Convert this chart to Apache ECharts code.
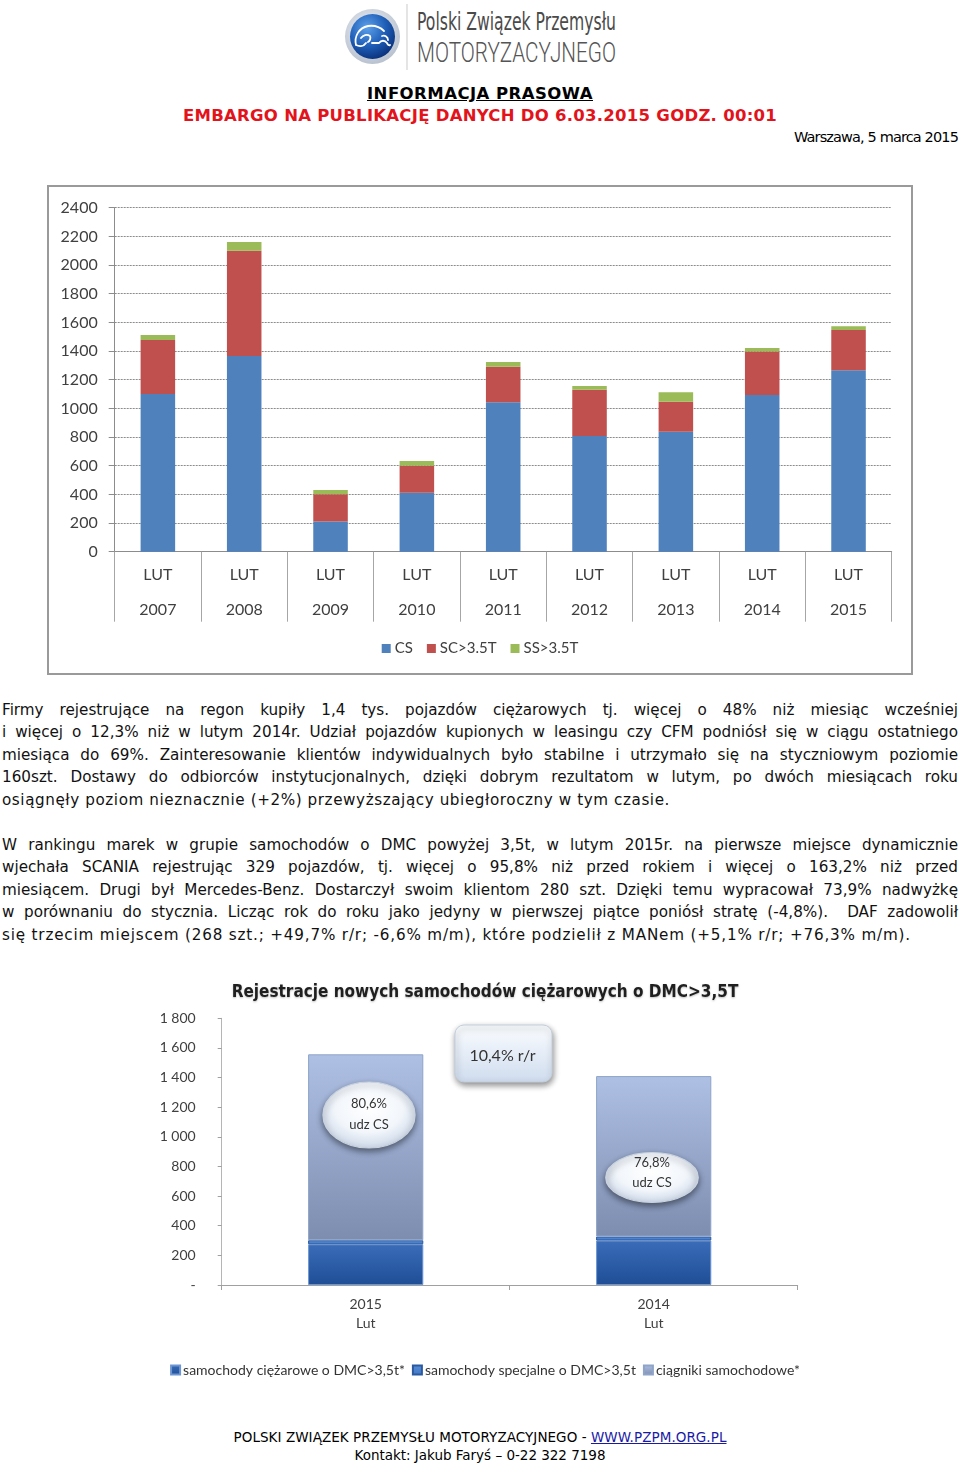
<!DOCTYPE html>
<html lang="pl"><head><meta charset="utf-8">
<script src="https://cdn.jsdelivr.net/npm/echarts@6.0.0/dist/echarts.min.js"></script>
<style>
html,body{margin:0;padding:0;background:#fff;}
body{width:960px;height:1467px;position:relative;overflow:hidden;font-family:'DejaVu Sans',sans-serif;color:#000;}
#logo{position:absolute;left:330px;top:0;width:300px;height:75px;}
.hd{position:absolute;left:0;width:960px;text-align:center;font-weight:bold;font-size:16.5px;line-height:22px;}
.hd span{display:inline-block;white-space:pre;}
#info{top:83px;}
#info span{text-decoration:underline;}
#emb{top:105px;color:#e3131b;}
#date{position:absolute;right:2px;top:127px;font-size:14.5px;line-height:20px;}
#date span{display:inline-block;white-space:pre;}
#box1{position:absolute;left:47px;top:185px;width:862px;height:486px;border:2px solid #9a9a9a;}
#c1{position:absolute;left:0;top:0;width:862px;height:486px;}
.txt{position:absolute;left:2px;width:956px;font-size:15.2px;line-height:22.4px;color:#111;}
.ln{display:block;height:22.4px;white-space:nowrap;}
.ln span{display:inline-block;white-space:pre;}
#c2{position:absolute;left:150px;top:975px;width:670px;height:410px;}
#foot{position:absolute;left:0;width:960px;top:1428px;text-align:center;font-size:13.5px;line-height:18px;}
#foot span.f{display:inline-block;white-space:pre;}
#foot a{color:#1a1aa6;text-decoration:underline;}
</style></head>
<body>
<svg id="logo" width="300" height="75" viewBox="0 0 300 75">
  <defs>
    <radialGradient id="ring" cx="45%" cy="40%" r="60%"><stop offset="0" stop-color="#f4f6f9"/><stop offset="1" stop-color="#b9c2cf"/></radialGradient>
    <radialGradient id="blue" cx="38%" cy="30%" r="75%"><stop offset="0" stop-color="#5da0ea"/><stop offset="0.55" stop-color="#1f5fb8"/><stop offset="1" stop-color="#0a2f78"/></radialGradient>
  </defs>
  <circle cx="42.5" cy="36.5" r="27.5" fill="url(#ring)"/>
  <circle cx="42.5" cy="36.5" r="22.5" fill="url(#blue)"/>
  <path d="M26,45 C24,36 29,28 38,26 C45,25 50,27 54,31 M26,45 C30,47 34,46 36,43 M31,38 C33,35 37,34 40,36 C41,38 40,41 38,42 M42,43 L49,43 M49,43 C51,40 55,40 57,43 C58,45 59,46 60,45 M52,36 C55,35 58,37 58,40" fill="none" stroke="#ffffff" stroke-width="1.8" stroke-linecap="round"/>
  <line x1="77" y1="4" x2="77" y2="70" stroke="#d3d3d3" stroke-width="1.2"/>
  <text x="87" y="30" font-family="DejaVu Sans Condensed" font-size="25" fill="#4a4a4a" textLength="199" lengthAdjust="spacingAndGlyphs">Polski Związek Przemysłu</text>
  <text x="87" y="62" font-family="Roboto" font-weight="300" font-size="27" fill="#555" textLength="199" lengthAdjust="spacingAndGlyphs">MOTORYZACYJNEGO</text>
</svg>

<div class="hd" id="info"><span data-w="226">INFORMACJA PRASOWA</span></div>
<div class="hd" id="emb"><span data-w="594">EMBARGO NA PUBLIKACJĘ DANYCH DO 6.03.2015 GODZ. 00:01</span></div>
<div id="date"><span data-w="164">Warszawa, 5 marca 2015</span></div>

<div id="box1"><div id="c1"></div></div>

<div class="txt" style="top:699px">
<div class="ln"><span class="j">Firmy rejestrujące na regon kupiły 1,4 tys. pojazdów ciężarowych tj. więcej o 48% niż miesiąc wcześniej</span></div>
<div class="ln"><span class="j">i więcej o 12,3% niż w lutym 2014r. Udział pojazdów kupionych w leasingu czy CFM podniósł się w ciągu ostatniego</span></div>
<div class="ln"><span class="j">miesiąca do 69%. Zainteresowanie klientów indywidualnych było stabilne i utrzymało się na styczniowym poziomie</span></div>
<div class="ln"><span class="j">160szt. Dostawy do odbiorców instytucjonalnych, dzięki dobrym rezultatom w lutym, po dwóch miesiącach roku</span></div>
<div class="ln"><span data-w="668">osiągnęły poziom nieznacznie (+2%) przewyższający ubiegłoroczny w tym czasie.</span></div>
</div>
<div class="txt" style="top:834px">
<div class="ln"><span class="j">W rankingu marek w grupie samochodów o DMC powyżej 3,5t, w lutym 2015r. na pierwsze miejsce dynamicznie</span></div>
<div class="ln"><span class="j">wjechała SCANIA rejestrując 329 pojazdów, tj. więcej o 95,8% niż przed rokiem i więcej o 163,2% niż przed</span></div>
<div class="ln"><span class="j">miesiącem. Drugi był Mercedes-Benz. Dostarczył swoim klientom 280 szt. Dzięki temu wypracował 73,9% nadwyżkę</span></div>
<div class="ln"><span class="j">w porównaniu do stycznia. Licząc rok do roku jako jedyny w pierwszej piątce poniósł stratę (-4,8%).  DAF zadowolił</span></div>
<div class="ln"><span data-w="909">się trzecim miejscem (268 szt.; +49,7% r/r; -6,6% m/m), które podzielił z MANem (+5,1% r/r; +76,3% m/m).</span></div>
</div>

<div id="c2"></div>

<div id="foot">
<span class="f" data-w="493">POLSKI ZWIĄZEK PRZEMYSŁU MOTORYZACYJNEGO - <a>WWW.PZPM.ORG.PL</a></span><br>
<span class="f" data-w="251">Kontakt: Jakub Faryś – 0-22 322 7198</span>
</div>

<script>
// ---------- Chart 1 data ----------
const years1 = ['2007','2008','2009','2010','2011','2012','2013','2014','2015'];
const month1 = 'LUT';
const names1 = ['CS','SC>3.5T','SS>3.5T'];
const valsCS = [1100,1365,210,412,1042,807,837,1093,1266];
const valsSC = [377,735,190,188,249,323,210,303,281];
const valsSS = [35,60,30,33,33,26,65,25,26];
const yMax1 = 2400, yStep1 = 200;

// ---------- Chart 2 data ----------
const title2 = 'Rejestracje nowych samochodów ciężarowych o DMC>3,5T';
const years2 = ['2015','2014'];
const month2 = 'Lut';
const names2 = ['samochody ciężarowe o DMC>3,5t*','samochody specjalne o DMC>3,5t','ciągniki samochodowe*'];
const valsCiez = [275,300];
const valsSpec = [27,27];
const valsCiag = [1255,1083];
const yMax2 = 1800, yStep2 = 200;
const noteYoY = '10,4% r/r';
const noteShare = ['80,6%\nudz CS','76,8%\nudz CS'];

// ---------- text fitting ----------
document.querySelectorAll('.j').forEach(el => {
  const w = el.getBoundingClientRect().width;
  const n = (el.textContent.match(/ /g) || []).length;
  if (n) el.style.wordSpacing = ((956 - w) / n) + 'px';
});
document.querySelectorAll('[data-w]').forEach(el => {
  const w = el.getBoundingClientRect().width;
  const n = el.textContent.length;
  el.style.letterSpacing = ((+el.dataset.w - w) / n) + 'px';
});

// ---------- Chart 1 ----------
const c1 = echarts.init(document.getElementById('c1'), null, {renderer:'canvas'});
const col1 = ['#4f81bd','#c0504d','#9bbb59'];
c1.setOption({
  animation:false,
  textStyle:{fontFamily:'Lato'},
  grid:{left:65.7,right:19.3,top:20.7,bottom:121.3},
  legend:{top:449,left:'center',icon:'rect',itemWidth:9,itemHeight:9,itemGap:14,
    textStyle:{fontFamily:'Lato',fontSize:15,color:'#404040',padding:[0,0,0,-1]},data:names1},
  xAxis:{type:'category',data:years1,
    axisLine:{lineStyle:{color:'#8c8c8c',width:1}},
    axisTick:{show:true,length:70,interval:0,lineStyle:{color:'#a6a6a6'}},
    axisLabel:{interval:0,formatter:v=>month1+'\n'+v,lineHeight:35,fontSize:16,color:'#404040',margin:6}},
  yAxis:{type:'value',min:0,max:yMax1,interval:yStep1,
    axisLine:{show:true,lineStyle:{color:'#8c8c8c'}},
    axisTick:{show:true,length:6,lineStyle:{color:'#8c8c8c'}},
    splitLine:{lineStyle:{color:'#8c8c8c',type:[2,1]}},
    axisLabel:{fontSize:16,color:'#404040',margin:17,formatter:v=>String(v)}},
  series:[
    {name:names1[0],type:'bar',stack:'s',barWidth:'40%',data:valsCS,itemStyle:{color:col1[0]}},
    {name:names1[1],type:'bar',stack:'s',data:valsSC,itemStyle:{color:col1[1]}},
    {name:names1[2],type:'bar',stack:'s',data:valsSS,itemStyle:{color:col1[2]}}
  ]
});

// ---------- Chart 2 ----------
const c2 = echarts.init(document.getElementById('c2'), null, {renderer:'canvas'});
const lin = (a,b) => ({type:'linear',x:0,y:0,x2:0,y2:1,colorStops:[{offset:0,color:a},{offset:1,color:b}]});
const bubble = {type:'radial',x:0.5,y:0.4,r:0.6,colorStops:[{offset:0,color:'#ffffff'},{offset:0.6,color:'#f2f6fb'},{offset:1,color:'#cdd8e8'}]};
c2.setOption({
  animation:false,
  textStyle:{fontFamily:'Lato'},
  title:{text:title2,left:'center',top:4,textStyle:{fontFamily:'DejaVu Sans Condensed',fontWeight:'bold',fontSize:17,color:'#1f1f1f',
    textShadowColor:'rgba(0,0,0,0.25)',textShadowBlur:2,textShadowOffsetY:1}},
  grid:{left:71.7,right:22.3,top:43.3,bottom:100},
  legend:{top:383,left:'center',icon:'rect',itemWidth:9,itemHeight:9,itemGap:7,
    textStyle:{fontFamily:'Lato',fontSize:14,color:'#333',padding:[0,0,0,-2]},data:names2},
  xAxis:{type:'category',data:years2,
    axisLine:{lineStyle:{color:'#a0a0a0'}},
    axisTick:{show:true,length:5,interval:0,lineStyle:{color:'#a0a0a0'}},
    axisLabel:{interval:0,formatter:v=>v+'\n'+month2,lineHeight:19,fontSize:14,color:'#404040',margin:10}},
  yAxis:{type:'value',min:0,max:yMax2,interval:yStep2,
    axisLine:{show:true,lineStyle:{color:'#b5b5b5'}},
    axisTick:{show:true,length:4,lineStyle:{color:'#a0a0a0'}},
    splitLine:{show:false},
    axisLabel:{fontSize:14,color:'#404040',margin:26,
      formatter:v=> v===0 ? '-' : String(v).replace(/\B(?=(\d{3})+(?!\d))/g,' ')}},
  series:[
    {name:names2[0],type:'bar',stack:'s',barWidth:'40%',data:valsCiez,
      itemStyle:{color:lin('#3a6cb8','#1f4e96'),borderColor:'#6d95d2',borderWidth:1}},
    {name:names2[1],type:'bar',stack:'s',data:valsSpec,
      itemStyle:{color:lin('#5a8fd8','#3f76c4'),borderColor:'#2c5aa0',borderWidth:1}},
    {name:names2[2],type:'bar',stack:'s',data:valsCiag,
      itemStyle:{color:lin('#aec0e4','#7d8db0'),borderColor:'#8fa4c9',borderWidth:1}}
  ],
  graphic:[
    {type:'rect',z:100,x:305,y:50,shape:{x:0,y:0,width:97,height:57,r:9},
      style:{fill:lin('#fbfdff','#cfdcee'),stroke:'#c3cedc',lineWidth:1,
        shadowBlur:6,shadowOffsetX:1,shadowOffsetY:3,shadowColor:'rgba(0,0,0,0.45)'}},
    {type:'text',z:101,x:352.5,y:81,style:{text:noteYoY,align:'center',verticalAlign:'middle',
      fontFamily:'Lato',fontSize:16,fill:'#333'}},
    {type:'circle',z:100,x:219,y:140,scaleX:46/33,shape:{cx:0,cy:0,r:33},
      style:{fill:bubble,stroke:'#c9d3e0',lineWidth:1,shadowBlur:6,shadowOffsetY:3,shadowColor:'rgba(0,0,0,0.45)'}},
    {type:'text',z:101,x:219,y:139,style:{text:noteShare[0],align:'center',verticalAlign:'middle',
      fontFamily:'Lato',fontSize:13,lineHeight:21,fill:'#333'}},
    {type:'circle',z:100,x:502,y:202.5,scaleX:46/25,shape:{cx:0,cy:0,r:25},
      style:{fill:bubble,stroke:'#c9d3e0',lineWidth:1,shadowBlur:6,shadowOffsetY:3,shadowColor:'rgba(0,0,0,0.45)'}},
    {type:'text',z:101,x:502,y:198,style:{text:noteShare[1],align:'center',verticalAlign:'middle',
      fontFamily:'Lato',fontSize:13,lineHeight:20,fill:'#333'}}
  ]
});
</script>
</body></html>
